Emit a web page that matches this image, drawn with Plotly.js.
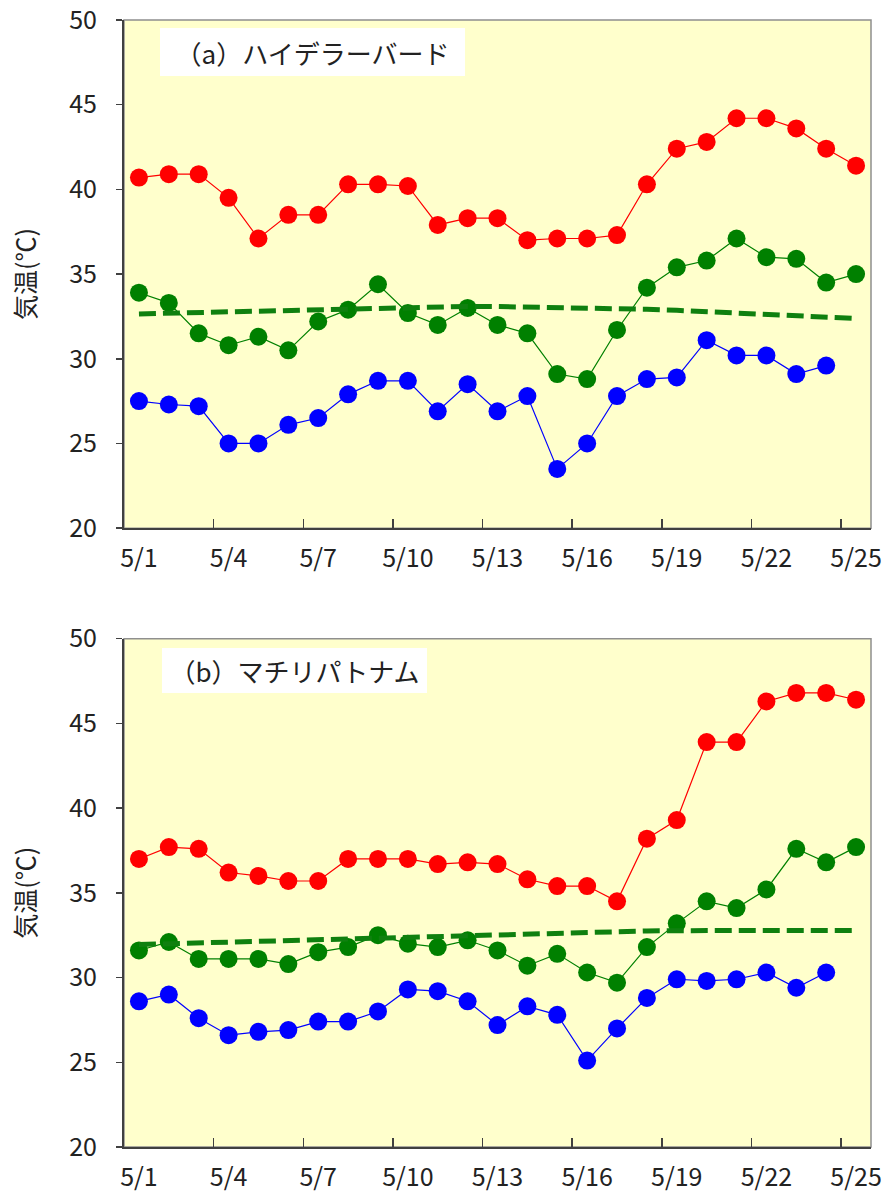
<!DOCTYPE html>
<html>
<head>
<meta charset="utf-8">
<script src="https://cdn.plot.ly/plotly-3.0.1.min.js"></script>
<style>
  html, body { margin: 0; padding: 0; background: #ffffff; }
  #chart { width: 890px; height: 1193px; }
</style>
</head>
<body>
<div id="chart"></div>
<script>
// ---- data ----
const days = ['5/1','5/2','5/3','5/4','5/5','5/6','5/7','5/8','5/9','5/10','5/11','5/12','5/13',
              '5/14','5/15','5/16','5/17','5/18','5/19','5/20','5/21','5/22','5/23','5/24','5/25'];
const tickLabels = ['5/1','5/4','5/7','5/10','5/13','5/16','5/19','5/22','5/25'];

// (a) Hyderabad
const hydMax = [40.7,40.9,40.9,39.5,37.1,38.5,38.5,40.3,40.3,40.2,37.9,38.3,38.3,
                37.0,37.1,37.1,37.3,40.3,42.4,42.8,44.2,44.2,43.6,42.4,41.4];
const hydMean = [33.9,33.3,31.5,30.8,31.3,30.5,32.2,32.9,34.4,32.7,32.0,33.0,32.0,
                 31.5,29.1,28.8,31.7,34.2,35.4,35.8,37.1,36.0,35.9,34.5,35.0];
const hydMin = [27.5,27.3,27.2,25.0,25.0,26.1,26.5,27.9,28.7,28.7,26.9,28.5,26.9,
                27.8,23.5,25.0,27.8,28.8,28.9,31.1,30.2,30.2,29.1,29.6,null];
const hydNormal = [32.65,32.69,32.73,32.77,32.8,32.87,32.93,32.97,33.0,33.04,33.07,33.09,33.08,
                   33.06,33.04,33.01,32.97,32.92,32.86,32.79,32.72,32.64,32.56,32.47,32.38];

// (b) Machilipatnam
const macMax = [37.0,37.7,37.6,36.2,36.0,35.7,35.7,37.0,37.0,37.0,36.7,36.8,36.7,
                35.8,35.4,35.4,34.5,38.2,39.3,43.9,43.9,46.3,46.8,46.8,46.4];
const macMean = [31.6,32.1,31.1,31.1,31.1,30.8,31.5,31.8,32.5,32.0,31.8,32.2,31.6,
                 30.7,31.4,30.3,29.7,31.8,33.2,34.5,34.1,35.2,37.6,36.8,37.7];
const macMin = [28.6,29.0,27.6,26.6,26.8,26.9,27.4,27.4,28.0,29.3,29.2,28.6,27.2,
                28.3,27.8,25.1,27.0,28.8,29.9,29.8,29.9,30.3,29.4,30.3,null];
const macNormal = [31.95,32.0,32.05,32.09,32.13,32.17,32.22,32.28,32.34,32.4,32.46,32.52,32.57,
                   32.62,32.66,32.7,32.73,32.75,32.77,32.78,32.79,32.79,32.79,32.79,32.78];

const panelTitles = ['（a）ハイデラーバード', '（b）マチリパトナム'];
const yTitle = '気温(℃)';

// ---- build ----
const xIdx = days.map((d, i) => i + 1);
const labelVals = tickLabels.map(l => days.indexOf(l) + 1);
const boundaryVals = labelVals.slice(1).map(v => v - 0.5);

const FONT = 'Noto Sans CJK JP, Noto Sans, sans-serif';
const TXT = '#222222';
const AX = '#404040';

function series(y, color, xa, ya) {
  return {
    x: xIdx, y: y, xaxis: xa, yaxis: ya, type: 'scatter', mode: 'lines+markers',
    line: { color: color, width: 1.2 },
    marker: { color: color, size: 18, line: { width: 0 } },
    connectgaps: false, hoverinfo: 'skip', showlegend: false
  };
}
function normal(y, xa, ya) {
  return {
    x: xIdx, y: y, xaxis: xa, yaxis: ya, type: 'scatter', mode: 'lines',
    line: { color: '#0f800f', width: 5, dash: '17px,7px' },
    hoverinfo: 'skip', showlegend: false
  };
}

const traces = [
  series(hydMax, '#ff0000', 'x', 'y'),
  series(hydMean, '#008000', 'x', 'y'),
  series(hydMin, '#0000ff', 'x', 'y'),
  normal(hydNormal, 'x', 'y'),
  series(macMax, '#ff0000', 'x2', 'y2'),
  series(macMean, '#008000', 'x2', 'y2'),
  series(macMin, '#0000ff', 'x2', 'y2'),
  normal(macNormal, 'x2', 'y2')
];

function xAxis(anchor) {
  return {
    anchor: anchor, domain: [0, 1], range: [0.5, 25.5],
    tickmode: 'array', tickvals: labelVals, ticktext: tickLabels,
    ticks: '', showgrid: false, zeroline: false,
    showline: true, linecolor: AX, linewidth: 2,
    minor: { tickmode: 'array', tickvals: boundaryVals, ticks: 'inside', ticklen: 9,
             tickwidth: 1.5, tickcolor: AX, showgrid: false },
    tickfont: { family: FONT, size: 25, color: TXT },
    ticklabelstandoff: 7, ticklabeloverflow: 'allow', fixedrange: true
  };
}
function yAxis(anchor, domain) {
  return {
    anchor: anchor, domain: domain, range: [20, 50],
    tickmode: 'linear', tick0: 20, dtick: 5,
    ticks: 'outside', ticklen: 6, tickwidth: 1.5, tickcolor: AX,
    showgrid: false, zeroline: false,
    showline: true, linecolor: AX, linewidth: 2,
    tickfont: { family: FONT, size: 25, color: TXT },
    ticklabelstandoff: 14, ticklabeloverflow: 'allow',
    title: { text: yTitle, font: { family: FONT, size: 25, color: TXT }, standoff: 26 },
    fixedrange: true
  };
}

function frame(xr, yr) {
  return { type: 'rect', xref: xr + ' domain', yref: yr + ' domain', x0: 0, x1: 1, y0: 0, y1: 1,
           line: { color: '#8f8f8f', width: 1.5 }, layer: 'below' };
}
function label(text, xr, yr, x, y, w, h) {
  return {
    text: text, xref: xr + ' domain', yref: yr + ' domain', x: x, y: y,
    xanchor: 'left', yanchor: 'top', showarrow: false, align: 'center',
    width: w, height: h, bgcolor: '#ffffff', borderpad: 7, borderwidth: 0,
    font: { family: FONT, size: 26, color: TXT }
  };
}

const layout = {
  width: 890, height: 1193,
  margin: { l: 124, r: 19, t: 20, b: 46 },
  paper_bgcolor: '#ffffff', plot_bgcolor: '#ffffcc',
  xaxis: xAxis('y'),
  yaxis: yAxis('x', [0.5491, 1]),
  xaxis2: xAxis('y2'),
  yaxis2: yAxis('x2', [0, 0.4510]),
  shapes: [frame('x', 'y'), frame('x2', 'y2')],
  annotations: [
    label(panelTitles[0], 'x', 'y', 0.048, 0.985, 291, 34),
    label(panelTitles[1], 'x2', 'y2', 0.051, 0.981, 251, 31)
  ],
  showlegend: false
};

Plotly.newPlot('chart', traces, layout, { displayModeBar: false, staticPlot: true });
</script>
</body>
</html>
